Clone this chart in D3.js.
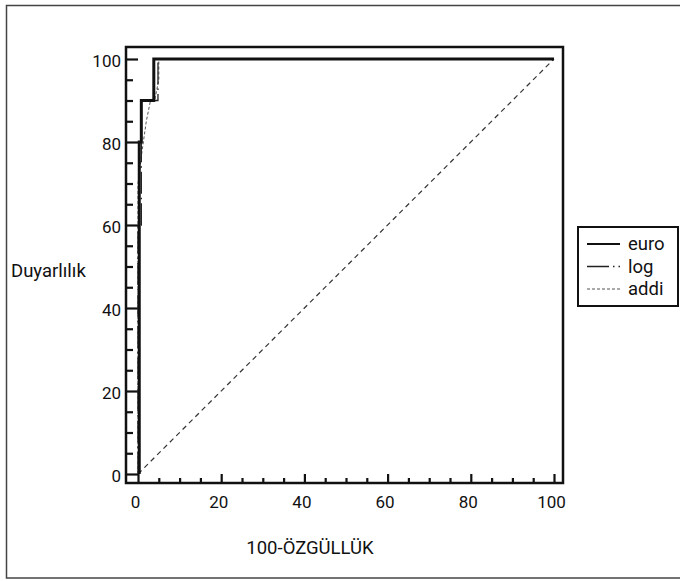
<!DOCTYPE html>
<html>
<head>
<meta charset="utf-8">
<script src="https://cdn.jsdelivr.net/npm/d3@7"></script>
<style>
  body { margin: 0; background: #fff; }
  svg text { font-family: Roboto, "Liberation Sans", sans-serif; fill: #111; }
</style>
</head>
<body>
<div id="chart"></div>
<script>
// ROC eğrileri: euro / log / addi

const majorTicks = [0, 20, 40, 60, 80, 100];
const minorTicks = d3.range(5, 100, 5).filter(v => v % 20 !== 0);

// x = 100-özgüllük, y = duyarlılık
const euroX = [0.3, 0.3, 0.8, 0.8, 3.8, 3.8, 100];
const euroY = [0, 80, 80, 90, 90, 100, 100];

const logX = [0, 0, 0.8, 0.8, 4.8, 4.8, 100];
const logY = [0, 60, 60, 90, 90, 100, 100];

const addiX = [0, 0, 1, 2, 3, 4, 5, 5, 100];
const addiY = [0, 70, 78, 85, 90, 90, 95, 100, 100];

const diagX = [0, 100];
const diagY = [0, 100];

const seriesNames = ["euro", "log", "addi"];

const W = 680, H = 581;

const svg = d3.select("#chart")
  .append("svg")
    .attr("width", W)
    .attr("height", H);

// dış çerçeve (sağ kenar resmin dışında)
svg.append("rect")
  .attr("x", 6.5).attr("y", 5.5)
  .attr("width", 720).attr("height", 572.5)
  .attr("fill", "none")
  .attr("stroke", "#444")
  .attr("stroke-width", 1.5);

const x = d3.scaleLinear().domain([0, 100]).range([138, 554]);
const y = d3.scaleLinear().domain([0, 100]).range([474, 59]);

const frame = { left: 126, right: 563, top: 47, bottom: 483 };

// eksenler
const xAxis = svg.append("g")
  .attr("transform", `translate(0,${frame.bottom})`)
  .call(d3.axisBottom(x).tickValues(majorTicks).tickSize(-9).tickPadding(13));
xAxis.selectAll("text").attr("font-size", 17).attr("dx", -3);

svg.append("g")
  .attr("transform", `translate(0,${frame.bottom})`)
  .call(d3.axisBottom(x).tickValues(minorTicks).tickSize(-5).tickFormat(""));

const yAxis = svg.append("g")
  .attr("transform", `translate(${frame.left},0)`)
  .call(d3.axisLeft(y).tickValues(majorTicks).tickSize(-12).tickPadding(5));
yAxis.selectAll("text").attr("font-size", 17).attr("dy", "0.45em");

svg.append("g")
  .attr("transform", `translate(${frame.left},0)`)
  .call(d3.axisLeft(y).tickValues(minorTicks).tickSize(-7).tickFormat(""));

svg.selectAll(".domain").remove();
svg.selectAll(".tick line").attr("stroke", "#111").attr("stroke-width", 2.2);
svg.selectAll("g text").attr("font-family", null);

// çizim çerçevesi
svg.append("rect")
  .attr("x", frame.left).attr("y", frame.top)
  .attr("width", frame.right - frame.left)
  .attr("height", frame.bottom - frame.top)
  .attr("fill", "none")
  .attr("stroke", "#111")
  .attr("stroke-width", 2.5);

const line = d3.line().x(d => x(d[0])).y(d => y(d[1]));

// köşegen
svg.append("path")
  .datum(d3.zip(diagX, diagY))
  .attr("d", line)
  .attr("fill", "none")
  .attr("stroke", "#333")
  .attr("stroke-width", 1.2)
  .attr("stroke-dasharray", "5,4");

const styles = {
  euro: { width: 3, dash: null, color: "#111" },
  log:  { width: 1.3, dash: "22,4,1.5,4", color: "#222" },
  addi: { width: 1, dash: "3,2", color: "#555" }
};

const seriesData = {
  euro: d3.zip(euroX, euroY),
  log: d3.zip(logX, logY),
  addi: d3.zip(addiX, addiY)
};

seriesNames.slice().reverse().forEach(name => {
  svg.append("path")
    .datum(seriesData[name])
    .attr("d", line)
    .attr("fill", "none")
    .attr("stroke", styles[name].color)
    .attr("stroke-width", styles[name].width)
    .attr("stroke-dasharray", styles[name].dash);
});

// eksen başlıkları
svg.append("text")
  .attr("x", 11).attr("y", 277)
  .attr("font-size", 18.5)
  .text("Duyarlılık");

svg.append("text")
  .attr("x", 310).attr("y", 554)
  .attr("text-anchor", "middle")
  .attr("font-size", 18.5)
  .text("100-ÖZGÜLLÜK");

// lejant
const legend = svg.append("g");
legend.append("rect")
  .attr("x", 578).attr("y", 227)
  .attr("width", 100).attr("height", 79)
  .attr("fill", "#fff")
  .attr("stroke", "#111")
  .attr("stroke-width", 2);

seriesNames.forEach((name, i) => {
  const ly = 244 + i * 22.5;
  legend.append("line")
    .attr("x1", 587).attr("x2", 620)
    .attr("y1", ly).attr("y2", ly)
    .attr("stroke", styles[name].color)
    .attr("stroke-width", Math.min(styles[name].width, 2.2))
    .attr("stroke-dasharray", styles[name].dash);
  legend.append("text")
    .attr("x", 628).attr("y", ly + 6)
    .attr("font-size", 18.5)
    .text(name);
});
</script>
</body>
</html>
